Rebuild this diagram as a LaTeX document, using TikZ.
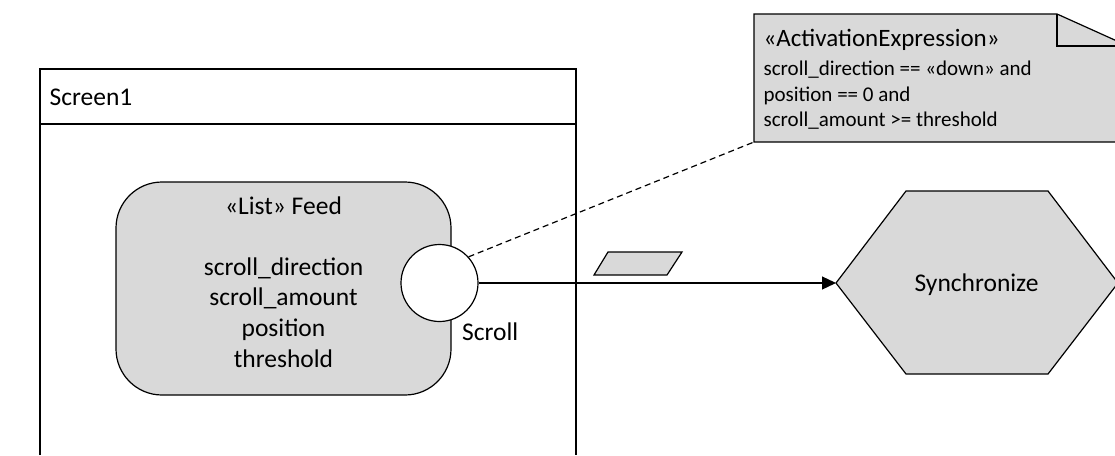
\documentclass[tikz,border=0pt]{standalone}
\usepackage{fontspec}
\setmainfont{Carlito}
\usetikzlibrary{arrows.meta}
\definecolor{boxgray}{HTML}{D9D9D9}
\begin{document}
\begin{tikzpicture}[x=1pt,y=-1pt,line width=1.2pt,
  shapefill/.style={draw=black,fill=boxgray},
  bigtext/.style={font=\fontsize{25.5}{30.7}\selectfont,inner sep=0pt},
  notehead/.style={font=\fontsize{25}{30}\selectfont,inner sep=0pt},
  notebody/.style={font=\fontsize{21}{26}\selectfont,inner sep=0pt},
  flow/.style={-{Triangle[length=14pt,width=13pt]}},
  anchorline/.style={dashed,dash pattern=on 6pt off 4pt}]
\useasboundingbox (0,0) rectangle (1115,455);

% Screen frame with its title compartment (open at the bottom)
\coordinate (frameBL) at (40,455);
\coordinate (frameTL) at (40,69);
\coordinate (frameTR) at (576,69);
\coordinate (frameBR) at (576,455);
\coordinate (headL) at (40,124);
\coordinate (headR) at (576,124);
\draw (frameBL) -- (frameTL) -- (frameTR) -- (frameBR);
\draw (headL) -- (headR);
\node[bigtext,anchor=base west] (screenname) at (49,105) {Screen1};

% List element
\node[shapefill,rounded corners=46pt,minimum width=335pt,minimum height=213pt,inner sep=0pt]
  (feed) at (283.5,288.5) {};
\node[bigtext,anchor=base] (feedtitle) at (283.5,214) {«List» Feed};
\node[bigtext,anchor=base] (attrA) at (283.5,275) {scroll\_direction};
\node[bigtext,anchor=base] (attrB) at (283.5,305.7) {scroll\_amount};
\node[bigtext,anchor=base] (attrC) at (283.5,336.4) {position};
\node[bigtext,anchor=base] (attrD) at (283.5,367) {threshold};

% Event port on the list
\node[circle,draw=black,fill=white,minimum size=77pt,inner sep=0pt] (port) at (439.5,283) {};
\node[bigtext,anchor=base west] (portname) at (461.5,340) {Scroll};

% Synchronize action (hexagon)
\coordinate (syncW) at (836,283);
\coordinate (syncNW) at (906,191);
\coordinate (syncNE) at (1048,191);
\coordinate (syncE) at (1118,283);
\coordinate (syncSE) at (1048,374);
\coordinate (syncSW) at (906,374);
\draw[shapefill] (syncW) -- (syncNW) -- (syncNE) -- (syncE) -- (syncSE) -- (syncSW) -- cycle;
\node[bigtext,anchor=base] (syncname) at (976.5,291.5) {Synchronize};

% Data flow from the port to the action, with its data symbol
\draw[flow] (port.east) -- (syncW);
\coordinate (dataA) at (594,275);
\coordinate (dataB) at (608,252);
\coordinate (dataC) at (682,252);
\coordinate (dataD) at (667,275);
\draw[shapefill] (dataA) -- (dataB) -- (dataC) -- (dataD) -- cycle;

% Note with folded corner
\coordinate (noteNW) at (754,14);
\coordinate (foldA) at (1057,14);
\coordinate (foldB) at (1057,46);
\coordinate (noteE) at (1128,46);
\coordinate (noteSE) at (1128,142);
\coordinate (noteSW) at (754,142);
\draw[shapefill] (noteNW) -- (foldA) -- (noteE) -- (noteSE) -- (noteSW) -- cycle;
\draw (foldA) -- (foldB) -- (noteE);
\node[notehead,anchor=base west] (notetitle) at (763,46.5) {«ActivationExpression»};
\node[notebody,anchor=base west] (noteA) at (763,75) {scroll\_direction == «down» and};
\node[notebody,anchor=base west] (noteB) at (763,101) {position == 0 and};
\node[notebody,anchor=base west] (noteC) at (763,126.7) {scroll\_amount >= threshold};

% Note attachment
\draw[anchorline] (port.42) -- (noteSW);
\end{tikzpicture}
\end{document}
